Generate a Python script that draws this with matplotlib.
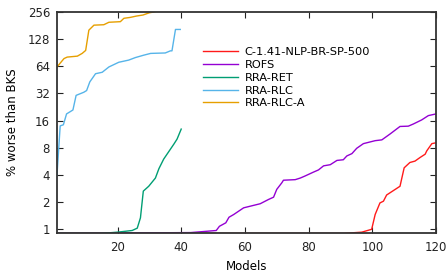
import matplotlib
matplotlib.use("Agg")
import matplotlib.pyplot as plt
from matplotlib.ticker import FixedLocator, FixedFormatter, NullLocator

# ---- data ----
names = ["C-1.41-NLP-BR-SP-500", "ROFS", "RRA-RET", "RRA-RLC", "RRA-RLC-A"]
colors = ["#ff1a1a", "#9400d3", "#009e73", "#56b4e9", "#e69f00"]

red_x = [1, 91, 96.7, 99.8, 100.9, 102.4, 103.5, 104.5, 108.7, 110, 111.8, 113.4, 115, 116.6, 117.1, 118.7, 120]
red_y = [0.9, 0.9, 0.93, 1.0, 1.46, 1.96, 2.05, 2.4, 3.0, 4.8, 5.5, 5.7, 6.25, 6.8, 7.4, 8.9, 9.1]

rofs_x = [1, 43, 51, 52, 54, 55, 56.5, 59.6, 64.8, 67.4, 69, 70, 71.6, 72.1, 75.8, 77.4, 78.9,
          81.5, 83.1, 84.7, 86.8, 88.9, 90.9, 92, 93.6, 95.1, 97.2, 100.9, 103, 105.6, 108.7,
          111.3, 112.9, 115.5, 117.6, 120]
rofs_y = [0.9, 0.92, 0.97, 1.08, 1.18, 1.36, 1.46, 1.73, 1.92, 2.14, 2.27, 2.77, 3.28, 3.5, 3.55,
          3.7, 3.9, 4.3, 4.55, 5.05, 5.2, 5.8, 5.9, 6.5, 6.9, 7.9, 8.9, 9.6, 9.8, 11.4, 13.8,
          13.9, 14.7, 16.3, 18.2, 19]

ret_x = [1, 15, 20, 24.6, 26.2, 27.2, 28.1, 29.8, 31.9, 33, 34.5, 37.7, 38.7, 40]
ret_y = [0.9, 0.9, 0.93, 0.97, 1.03, 1.34, 2.65, 3.0, 3.7, 4.7, 6.0, 8.8, 10, 12.9]

rlc_x = [1, 2, 3, 4, 6, 7, 9.4, 10.3, 11.3, 13.1, 15.2, 17.3, 20.4, 23.5, 25.6, 28.2, 30.4, 35, 36.6, 37.1, 38.2, 39.7]
rlc_y = [4, 14, 14.4, 19, 21, 30.5, 33, 34.5, 43, 53, 55, 63, 71, 75, 80, 85, 89, 90, 95, 95, 164, 164]

rlca_x = [1, 3.2, 4.2, 7.4, 8.9, 10, 11, 12.6, 15.7, 17.3, 20.9, 22, 24, 26, 28, 30, 31.4, 32.5]
rlca_y = [63, 78, 81, 83, 89, 96, 161, 183, 185, 197, 200, 218, 223, 231, 237, 251, 256, 262]

series_x = [red_x, rofs_x, ret_x, rlc_x, rlca_x]
series_y = [red_y, rofs_y, ret_y, rlc_y, rlca_y]

y_ticks = [1, 2, 4, 8, 16, 32, 64, 128, 256]
x_ticks = [20, 40, 60, 80, 100, 120]

# ---- figure ----
fig = plt.figure(figsize=(4.48, 2.74), dpi=100)
ax = fig.add_axes([57 / 448, 1 - 232.7 / 274, (436 - 57) / 448, (232.7 - 12) / 274])

for xs, ys, c, n in zip(series_x, series_y, colors, names):
    ax.plot(xs, ys, color=c, lw=1.0, label=n)

ax.set_yscale("log", base=2)
ax.set_ylim(0.917, 256)
ax.set_xlim(1, 120)
ax.yaxis.set_major_locator(FixedLocator(y_ticks))
ax.yaxis.set_major_formatter(FixedFormatter([str(v) for v in y_ticks]))
ax.yaxis.set_minor_locator(NullLocator())
ax.xaxis.set_major_locator(FixedLocator(x_ticks))
ax.xaxis.set_minor_locator(NullLocator())

ax.tick_params(direction="in", length=4, width=0.8, labelsize=8.5, colors="#222222",
               top=True, right=True)
ax.tick_params(axis="x", pad=6)
ax.tick_params(axis="y", pad=5)
for s in ax.spines.values():
    s.set_linewidth(1.3)
    s.set_color("#333333")

ax.set_xlabel("Models", fontsize=8.5, labelpad=4)
ax.set_ylabel("% worse than BKS", fontsize=8.5, labelpad=6)

ax.legend(loc="upper left", bbox_to_anchor=(0.385, 0.841), frameon=False, fontsize=8.2,
          handlelength=3.05, handletextpad=0.6, labelspacing=0.25, borderpad=0,
          borderaxespad=0)

fig.savefig("out.png", dpi=100)
